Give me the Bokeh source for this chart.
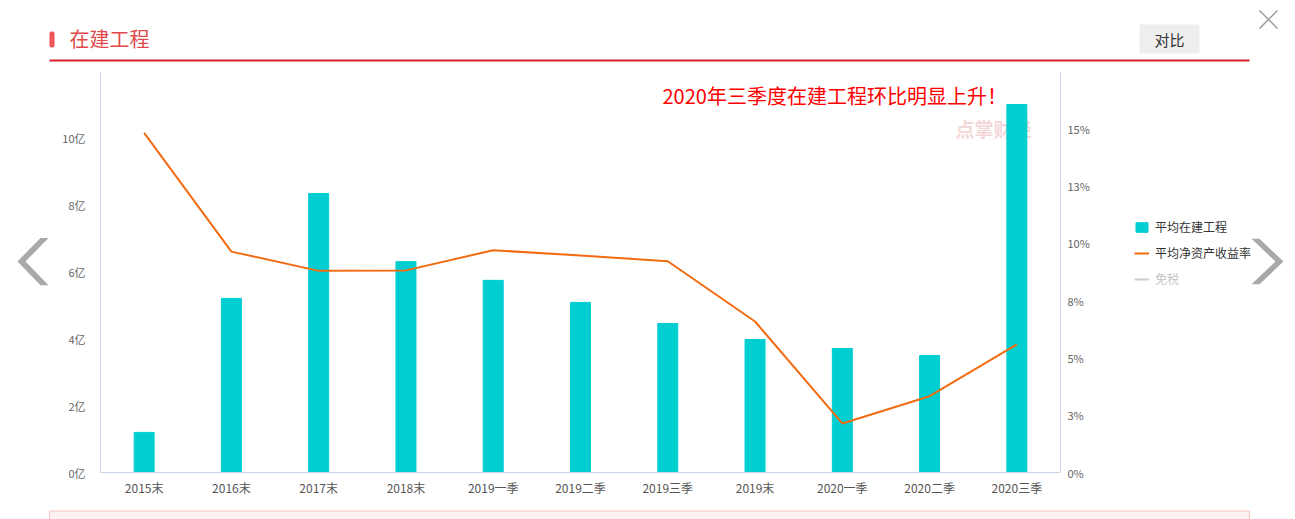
import math
from bokeh.plotting import figure
from bokeh.layouts import column, row
from bokeh.models import (ColumnDataSource, FactorRange, Range1d, LinearAxis, FixedTicker,
                          Label, BoxAnnotation, Legend, LegendItem)
from bokeh.core.properties import value
from bokeh.embed import file_html
from bokeh.resources import INLINE

# ---------------- data ----------------
categories = ["2015末", "2016末", "2017末", "2018末", "2019一季", "2019二季",
              "2019三季", "2019末", "2020一季", "2020二季", "2020三季"]
construction = [1.20, 5.21, 8.35, 6.31, 5.75, 5.09, 4.46, 3.98, 3.71, 3.50, 11.01]   # 亿
roe = [14.82, 9.64, 8.80, 8.82, 9.70, 9.47, 9.22, 6.59, 2.14, 3.33, 5.59]            # %
left_ticks = [0, 2, 4, 6, 8, 10]
left_tick_labels = ["0亿", "2亿", "4亿", "6亿", "8亿", "10亿"]
right_ticks = [0, 2.5, 5, 7.5, 10, 12.5, 15]
right_tick_labels = ["0%", "3%", "5%", "8%", "10%", "13%", "15%"]
series_names = ["平均在建工程", "平均净资产收益率", "免税"]
title_text = "在建工程"
button_text = "对比"
note_text = "2020年三季度在建工程环比明显上升！"
watermark_text = "点掌财经"

FONT = "Noto Sans CJK SC"
BAR_COLOR = "#00CED1"
LINE_COLOR = "#f26b10"
W, H = 1295, 519
HEADER_H = 64
MID_H = 441
FOOT_H = H - HEADER_H - MID_H
LEFT_W = 52
RIGHT_X = 1100
CHART_W = RIGHT_X - LEFT_W


def deco_fig(width, height, x0, x1, y0, y1):
    f = figure(width=width, height=height, x_range=Range1d(x0, x1), y_range=Range1d(y1, y0),
               x_axis_type=None, y_axis_type=None, toolbar_location=None, output_backend="svg",
               min_border_left=0, min_border_right=0, min_border_top=0, min_border_bottom=0,
               title=None)
    f.outline_line_color = None
    f.background_fill_color = "white"
    f.border_fill_color = "white"
    return f


# ---------------- header ----------------
hd = deco_fig(W, HEADER_H, 0, W, 0, HEADER_H)
hd.add_layout(BoxAnnotation(left=49, right=54, top=31, bottom=47, fill_color="#f05555",
                            fill_alpha=1, line_color=None, border_radius=2))
hd.text(x=[69], y=[37.5], text=[title_text], text_font=value(FONT), text_font_size="20px",
        text_color="#e24a4a", text_baseline="middle")
hd.quad(left=[49], right=[1249], top=[59], bottom=[61], fill_color="#d7222b", line_color=None)
hd.quad(left=[1139], right=[1199], top=[24], bottom=[53], fill_color="#eeeeee", line_color=None)
hd.text(x=[1169], y=[39], text=[button_text], text_font=value(FONT), text_font_size="15px",
        text_color="#333333", text_align="center", text_baseline="middle")
hd.segment(x0=[1259, 1259], y0=[10, 28], x1=[1277, 1277], y1=[28, 10],
           line_color="#9a9a9a", line_width=1.5)

# ---------------- left chevron ----------------
lf = deco_fig(LEFT_W, MID_H, 0, LEFT_W, HEADER_H, HEADER_H + MID_H)
lf.patch(x=[40, 48, 25, 48, 40, 17], y=[247, 247, 273, 299, 299, 273],
         fill_color="#a9a9a9", line_color=None)

# ---------------- right side: chevron + legend ----------------
rf = deco_fig(W - RIGHT_X, MID_H, RIGHT_X, W, HEADER_H, HEADER_H + MID_H)
rf.patch(x=[1251, 1259, 1283, 1259, 1251, 1275], y=[248, 248, 273, 298, 298, 273],
         fill_color="#a9a9a9", line_color=None)
# legend key placeholders (no visible data), styled like the chart's series
key_bar = rf.vbar(x=[math.nan], top=[math.nan], width=1, color=BAR_COLOR)
key_line = rf.line(x=[math.nan], y=[math.nan], line_color=LINE_COLOR, line_width=2)
key_tax = rf.line(x=[math.nan], y=[math.nan], line_color="#555555", line_width=2, visible=False)
legend = Legend(items=[LegendItem(label=series_names[0], renderers=[key_bar]),
                       LegendItem(label=series_names[1], renderers=[key_line]),
                       LegendItem(label=series_names[2], renderers=[key_tax])],
                location=(1134 - RIGHT_X, 185), orientation="vertical",
                glyph_width=15, glyph_height=12, label_height=14, spacing=9,
                padding=0, margin=0, border_line_color=None, background_fill_alpha=0,
                label_text_font=FONT, label_text_font_size="12px", label_text_color="#333333",
                label_standoff=6, click_policy="hide")
rf.add_layout(legend)

# ---------------- footer ----------------
ft = deco_fig(W, FOOT_H, 0, W, HEADER_H + MID_H, H)
ft.quad(left=[49], right=[1249], top=[510.5], bottom=[540], fill_color="#fff1f1",
        line_color="#f7c4c4", line_width=1)

# ---------------- chart ----------------
src = ColumnDataSource(dict(cat=categories, val=construction, roe=roe))

p = figure(width=CHART_W, height=MID_H, x_range=FactorRange(*categories, range_padding=0),
           y_range=Range1d(0, 12), output_backend="svg", toolbar_location=None, title=None,
           min_border_left=48, min_border_right=CHART_W - 48 - 960,
           min_border_top=7, min_border_bottom=MID_H - 7 - 401)
p.extra_y_ranges = {"pct": Range1d(0, 17.5)}
p.outline_line_color = None
p.xgrid.visible = False
p.ygrid.visible = False
p.background_fill_color = "white"
p.border_fill_color = "white"

AXIS_COLOR = "#c9d6e8"

ya = p.yaxis[0]
ya.ticker = FixedTicker(ticks=left_ticks)
ya.major_label_overrides = {t: l for t, l in zip(left_ticks, left_tick_labels)}
ya.axis_line_color = AXIS_COLOR
ya.major_tick_line_color = None
ya.minor_tick_line_color = None
ya.major_label_standoff = 9
ya.major_label_text_font = FONT
ya.major_label_text_font_size = "11px"
ya.major_label_text_color = "#666666"

ra = LinearAxis(y_range_name="pct", ticker=FixedTicker(ticks=right_ticks))
ra.major_label_overrides = {t: l for t, l in zip(right_ticks, right_tick_labels)}
ra.axis_line_color = AXIS_COLOR
ra.major_tick_line_color = None
ra.minor_tick_line_color = None
ra.major_label_standoff = 1
ra.major_label_text_font = FONT
ra.major_label_text_font_size = "11px"
ra.major_label_text_color = "#666666"
p.add_layout(ra, "right")

xa = p.xaxis[0]
xa.axis_line_color = AXIS_COLOR
xa.major_tick_line_color = None
xa.minor_tick_line_color = None
xa.major_label_standoff = 0
xa.major_label_text_font = FONT
xa.major_label_text_font_size = "12px"
xa.major_label_text_color = "#555555"

# watermark (behind the bars)
p.add_layout(Label(x=955 - 100, y=472 - 128, x_units="screen", y_units="screen",
                   text=watermark_text, text_font=FONT, text_font_size="19px",
                   text_font_style="bold", text_color="#f1cccc", text_alpha=0.8,
                   text_baseline="middle", level="image"))

bars = p.vbar(x="cat", top="val", width=0.229, source=src, color=BAR_COLOR)
line = p.line(x="cat", y="roe", source=src, y_range_name="pct", line_color=LINE_COLOR,
              line_width=2)

p.add_layout(Label(x=662 - 100, y=472 - 95, x_units="screen", y_units="screen", text=note_text,
                   text_font=FONT, text_font_size="20px", text_color="#ff0000",
                   text_baseline="middle"))

layout = column(hd, row(lf, p, rf), ft)

with open("out.html", "w") as f:
    f.write(file_html(layout, INLINE))
